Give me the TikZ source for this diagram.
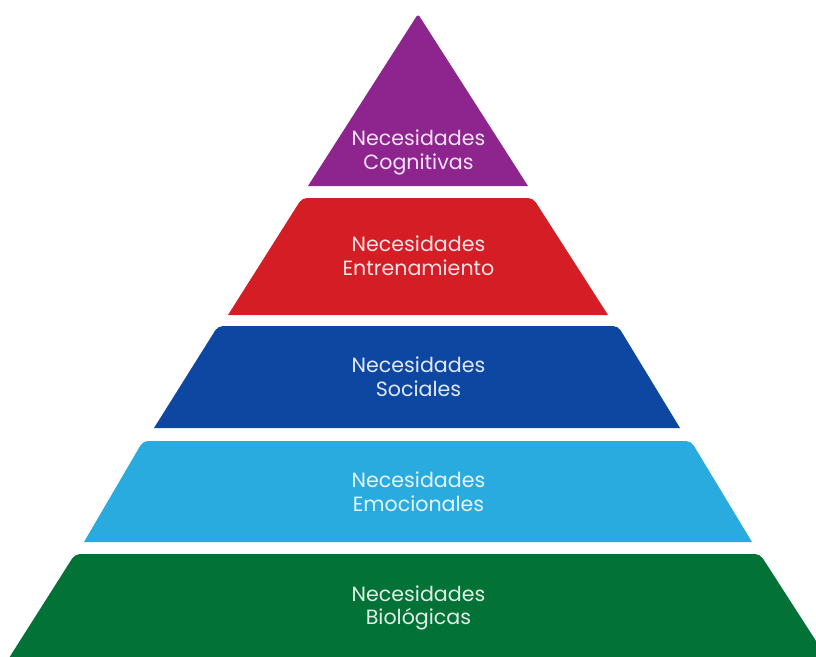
\documentclass[tikz,border=0pt]{standalone}
\usepackage{fontspec}
\setmainfont{Poppins}
\definecolor{levelPurple}{RGB}{142,37,143}
\definecolor{levelRed}{RGB}{212,29,36}
\definecolor{levelBlue}{RGB}{13,71,161}
\definecolor{levelSky}{RGB}{41,171,224}
\definecolor{levelGreen}{RGB}{3,114,54}
% two label lines, each padded with a strut so every label box has the same height
\newcommand\twolines[2]{\strut#1\\\strut#2}
\begin{document}
\begin{tikzpicture}[x=1pt,y=-1pt,
  lbl/.style={text=white, text opacity=0.88, align=center, inner sep=0pt,
    font=\fontsize{20.6}{23.5}\selectfont}]
\useasboundingbox (0,0) rectangle (816,656);
\clip (0,0) rectangle (816,656);

% pyramid levels, top to bottom
\fill[levelPurple] (308,186) [rounded corners=3pt] -- (418,14) [sharp corners] -- (528,186) -- cycle;
\fill[levelRed] (228,315) [rounded corners=5pt] -- (302,198) -- (533,198) [sharp corners] -- (608,315) -- cycle;
\fill[levelBlue] (154,428) [rounded corners=5pt] -- (218,326) -- (618,326) [sharp corners] -- (680,428) -- cycle;
\fill[levelSky] (84,542) [rounded corners=5pt] -- (143,441) -- (691,441) [sharp corners] -- (752,542) -- cycle;
\fill[levelGreen] (9,658) [rounded corners=5pt] -- (75,554) -- (760,554) [sharp corners] -- (827,658) -- cycle;

% labels
\node[lbl] (cognitivas) at (418.5,153) {\twolines{Necesidades}{Cognitivas}};
\node[lbl] (entrenamiento) at (418.5,259) {\twolines{Necesidades}{Entrenamiento}};
\node[lbl] (sociales) at (418.5,380) {\twolines{Necesidades}{Sociales}};
\node[lbl] (emocionales) at (418.5,495) {\twolines{Necesidades}{Emocionales}};
\node[lbl] (biologicas) at (418.5,608.5) {\twolines{Necesidades}{Biológicas}};
\end{tikzpicture}
\end{document}
